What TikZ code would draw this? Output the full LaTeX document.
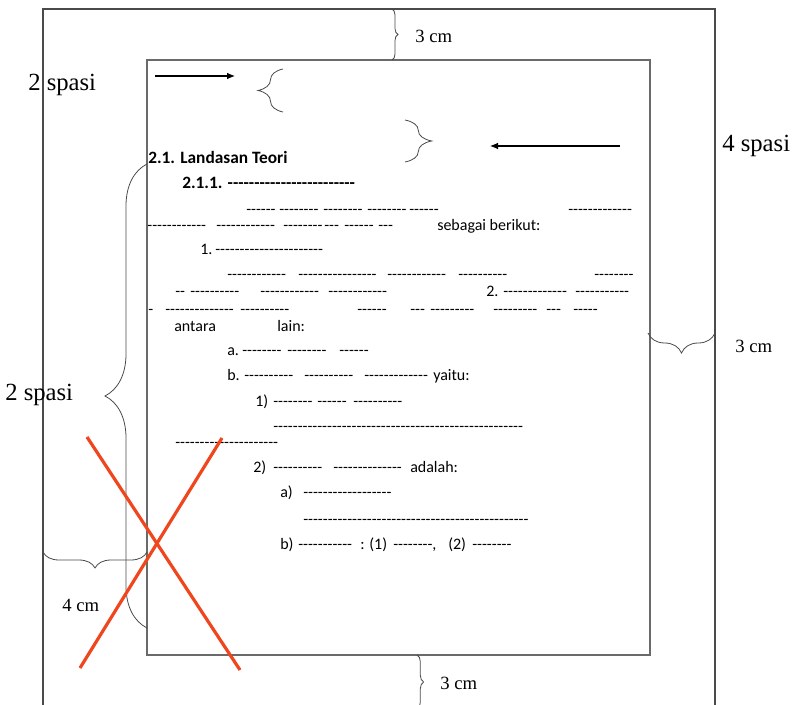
\documentclass[tikz,border=0pt]{standalone}
\usepackage{fontspec}
\setmainfont{Liberation Serif}
\newfontfamily\gsans{Carlito}[Ligatures=TeXOff]
\usetikzlibrary{decorations.pathreplacing,arrows.meta}
\definecolor{xred}{HTML}{F0461E}
\definecolor{frame}{HTML}{4A4A4A}
\definecolor{inframe}{HTML}{6A6A6A}
\begin{document}
\begin{tikzpicture}[x=0.75pt,y=-0.75pt,
  t/.style={anchor=base west,inner sep=0pt,font=\gsans\fontsize{12}{14}\selectfont},
  tb/.style={anchor=base west,inner sep=0pt,font=\gsans\bfseries\fontsize{13}{15}\selectfont},
  lab/.style={anchor=base west,inner sep=0pt,font=\fontsize{14}{16}\selectfont},
  big/.style={anchor=base west,inner sep=0pt,font=\fontsize{18.5}{20}\selectfont},
  br/.style={draw=frame,line width=0.6pt,decorate,decoration={brace,amplitude=#1}},
  arr/.style={draw=black,line width=0.8pt,-{Latex[length=6pt,width=5pt]}},
  cross/.style={draw=xred,line width=2.4pt}]
\useasboundingbox (0,0) rectangle (796,705);
% frames
\draw[frame,line width=0.8pt] (43,712) -- (43,9) -- (715,9) -- (715,712);
\draw[inframe,line width=1pt] (147,60) rectangle (650,655);
% braces
\draw[br=4.5pt] (392,9) -- (392,60);
\draw[br=18.75pt] (283,112) -- (283,69);
\draw[br=20pt] (405,120) -- (405,162);
\draw[br=15pt] (715,333) -- (648,333);
\draw[br=31.5pt] (147,628) -- (147,164);
\draw[br=12pt] (147,552) -- (43,552);
\draw[br=5pt] (417,655) -- (417,709);
% arrows
\coordinate (a1s) at (155,76); \coordinate (a1e) at (235,76);
\coordinate (a2s) at (620,146); \coordinate (a2e) at (490,146);
\draw[arr] (a1s) -- (a1e);
\draw[arr] (a2s) -- (a2e);
% outer labels
\node[lab] (c1) at (415,43) {3 cm};
\node[big] (s1) at (28,91) {2 spasi};
\node[big] (s2) at (722,152) {4 spasi};
\node[lab] (c2) at (735,353) {3 cm};
\node[big] (s3) at (5,401) {2 spasi};
\node[lab] (c3) at (62,611) {4 cm};
\node[lab] (c4) at (440,689) {3 cm};
% headings
\node[tb] (h1) at (148,164) {2.1. Landasan Teori};
\node[tb] (h2) at (182,189) {2.1.1. ------------------------};
% line 210
\node[t] (l1a) at (246,215) {------};
\node[t] (l1b) at (279,215) {--------};
\node[t] (l1c) at (323,215) {--------};
\node[t] (l1d) at (367,215) {--------};
\node[t] (l1e) at (409,215) {------};
\node[t] (l1f) at (568,215) {-------------};
% line 226
\node[t] (l2a) at (147,231) {-};
\node[t] (l2b) at (152,231) {-----------};
\node[t] (l2c) at (216,231) {------------};
\node[t] (l2d) at (283,231) {--------};
\node[t] (l2e) at (324,231) {---};
\node[t] (l2f) at (344,231) {------};
\node[t] (l2g) at (378,231) {---};
\node[t] (l2h) at (437,231) {sebagai berikut:};
% line 250
\node[t] (l3a) at (200,255) {1.};
\node[t] (l3b) at (215,255) {----------------------};
% line 275
\node[t] (l4a) at (227,280) {------------};
\node[t] (l4b) at (298,280) {----------------};
\node[t] (l4c) at (387,280) {------------};
\node[t] (l4d) at (458,280) {----------};
\node[t] (l4e) at (594,280) {--------};
% line 292
\node[t] (l5a) at (175,297) {--};
\node[t] (l5b) at (190,297) {----------};
\node[t] (l5c) at (260,297) {------------};
\node[t] (l5d) at (328,297) {------------};
\node[t] (l5e) at (486,297) {2.};
\node[t] (l5f) at (503,297) {-------------};
\node[t] (l5g) at (575,297) {-----------};
% line 310
\node[t] (l6a) at (148,315) {-};
\node[t] (l6b) at (165,315) {--------------};
\node[t] (l6c) at (240,315) {----------};
\node[t] (l6d) at (357,315) {------};
\node[t] (l6e) at (410,315) {---};
\node[t] (l6f) at (430,315) {---------};
\node[t] (l6g) at (493,315) {---------};
\node[t] (l6h) at (546,315) {---};
\node[t] (l6i) at (573,315) {-----};
% line 327
\node[t] (l7a) at (174,332) {antara};
\node[t] (l7b) at (277,332) {lain:};
% line 351
\node[t] (l8a) at (227,356) {a.};
\node[t] (l8b) at (242,356) {--------};
\node[t] (l8c) at (287,356) {--------};
\node[t] (l8d) at (339,356) {------};
% line 376
\node[t] (l9a) at (227,381) {b.};
\node[t] (l9b) at (244,381) {----------};
\node[t] (l9c) at (304,381) {----------};
\node[t] (l9d) at (364,381) {-------------};
\node[t] (l9e) at (433,381) {yaitu:};
% line 402
\node[t] (m1a) at (255,407) {1)};
\node[t] (m1b) at (273,407) {--------};
\node[t] (m1c) at (317,407) {------};
\node[t] (m1d) at (353,407) {----------};
% line 427
\node[t] (m2a) at (273,432) {---------------------------------------------------};
% line 443
\node[t] (m3a) at (175,448) {---------------------};
% line 468
\node[t] (m4a) at (253,473) {2)};
\node[t] (m4b) at (273,473) {----------};
\node[t] (m4c) at (333,473) {--------------};
\node[t] (m4d) at (410,473) {adalah:};
% line 493
\node[t] (m5a) at (280,498) {a)};
\node[t] (m5b) at (303,498) {------------------};
% line 520
\node[t] (m6a) at (303,525) {----------------------------------------------};
% line 545
\node[t] (m7a) at (280,550) {b)};
\node[t] (m7b) at (298,550) {-----------};
\node[t] (m7c) at (360,550) {: (1)};
\node[t] (m7d) at (393,550) {--------,};
\node[t] (m7e) at (448,550) {(2)};
\node[t] (m7f) at (472,550) {--------};
% red cross
\coordinate (x1s) at (87,437); \coordinate (x1e) at (240,670);
\coordinate (x2s) at (222,438); \coordinate (x2e) at (80,668);
\draw[cross] (x1s) -- (x1e);
\draw[cross] (x2s) -- (x2e);
\end{tikzpicture}
\end{document}
